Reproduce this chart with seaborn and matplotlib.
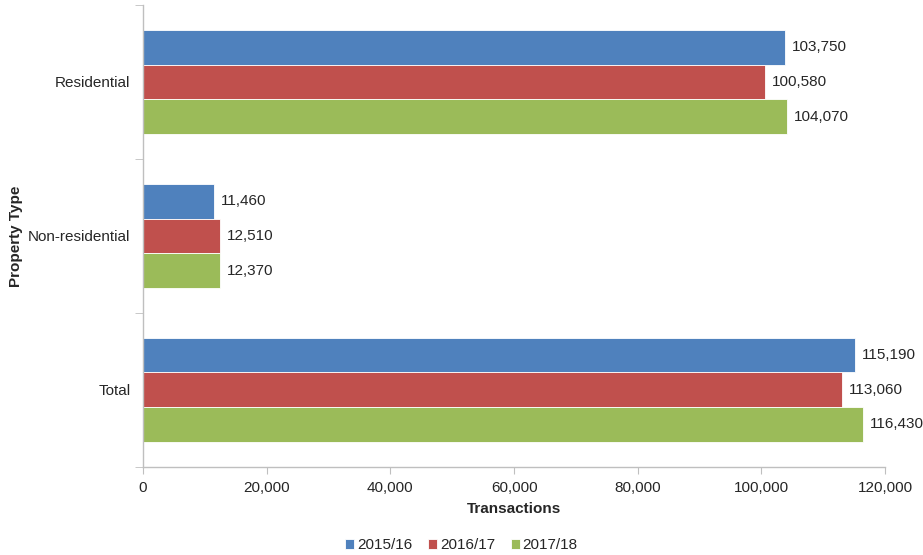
import numpy as np
import pandas as pd
import matplotlib.pyplot as plt
import seaborn as sns

categories = ['Residential', 'Non-residential', 'Total']
years = ['2015/16', '2016/17', '2017/18']
vals_1516 = [103750, 11460, 115190]
vals_1617 = [100580, 12510, 113060]
vals_1718 = [104070, 12370, 116430]
colors = ['#4F81BD', '#C0504D', '#9BBB59']

df = pd.DataFrame({
    'Property Type': categories * 3,
    'Year': [y for y in years for _ in categories],
    'Transactions': vals_1516 + vals_1617 + vals_1718,
})

sns.set_style('white')
plt.rcParams['font.family'] = ['Liberation Sans', 'DejaVu Sans']
plt.rcParams['font.size'] = 11

fig = plt.figure(figsize=(9.23, 5.55), dpi=100)
ax = fig.add_axes([0.155, 0.159, 0.804, 0.832])

sns.barplot(data=df, y='Property Type', x='Transactions', hue='Year',
            order=categories, hue_order=years, palette=colors, orient='h',
            width=0.675, saturation=1, edgecolor='white', linewidth=0.6, ax=ax)

for cont in ax.containers:
    ax.bar_label(cont, labels=[f'{v:,.0f}' for v in cont.datavalues],
                 padding=5, fontsize=11, color='#262626')

ax.set_xlim(0, 120000)
ax.set_ylim(2.5, -0.5)
ax.set_xticks(np.arange(0, 120001, 20000))
ax.set_xticklabels([f'{v:,}' for v in range(0, 120001, 20000)])
ax.set_yticks([-0.5, 0.5, 1.5, 2.5], minor=True)
ax.tick_params(axis='y', which='major', length=0, pad=9, labelsize=11, colors='#262626')
ax.tick_params(axis='y', which='minor', length=6, color='#bfbfbf', direction='out', left=True)
ax.tick_params(axis='x', length=5, color='#bfbfbf', direction='out', bottom=True,
               pad=5, labelsize=11, labelcolor='#262626')

for s in ['top', 'right']:
    ax.spines[s].set_visible(False)
for s in ['left', 'bottom']:
    ax.spines[s].set_color('#bfbfbf')
    ax.spines[s].set_linewidth(1)

ax.set_xlabel('Transactions', fontweight='bold', fontsize=11, color='#262626', labelpad=5)
ax.set_ylabel('Property Type', fontweight='bold', fontsize=11, color='#262626', labelpad=4)

handles, labels = ax.get_legend_handles_labels()
ax.legend_.remove()
fig.legend(handles, labels, loc='lower center', bbox_to_anchor=(0.5, -0.02), ncol=3,
           frameon=False, fontsize=11, handlelength=0.6, handleheight=0.6,
           handletextpad=0.2, columnspacing=1.0)

plt.savefig('out.png')
